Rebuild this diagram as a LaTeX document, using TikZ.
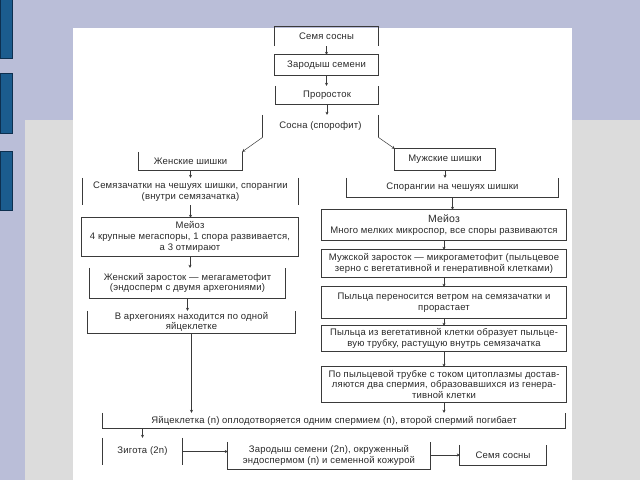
\documentclass[tikz,border=0pt]{standalone}
\usepackage{fontspec}
\setmainfont{Liberation Sans}[LetterSpace=2]
\usetikzlibrary{arrows.meta,calc}
\definecolor{bgblue}{HTML}{BABED8}
\definecolor{bggrey}{HTML}{DCDCDC}
\definecolor{barblue}{HTML}{1B5C8E}
\definecolor{barline}{HTML}{0D2F4F}
\definecolor{linec}{HTML}{3A3A3A}
\definecolor{textc}{HTML}{2A2A2A}
\newcommand{\fs}{\fontsize{9.5}{10.8}\selectfont}
\tikzset{
  box/.style={inner sep=0pt, align=center, font=\fs, text=textc},
  edge/.style={draw=linec, line width=0.8pt},
  arr/.style={draw=linec, line width=0.5pt, -{Stealth[length=3pt,width=3pt]}},
  bar/.style={fill=barblue, draw=barline, line width=0.6pt}
}
\begin{document}
\begin{tikzpicture}[x=1pt,y=-1pt]
\useasboundingbox (0,0) rectangle (640,480);
% background
\fill[bgblue] (0,0) rectangle (640,480);
\fill[bggrey] (25,120) rectangle (640,480);
\fill[white] (73,28) rectangle (572,480);
\draw[bar] (0,-1) rectangle (12,58);
\draw[bar] (0,73) rectangle (12,133);
\draw[bar] (0,151) rectangle (12,210);

% nodes
\node[box, minimum width=103pt, minimum height=19pt] (b1) at (326.5,36.5) {Семя сосны};
\node[box, minimum width=103pt, minimum height=20pt] (b2) at (326.5,65) {Зародыш семени};
\node[box, minimum width=102pt, minimum height=18pt] (b3) at (327,95) {Проросток};
\node[box, minimum width=115pt, minimum height=22pt] (b4) at (320.5,126) {Сосна (спорофит)};
\node[box, minimum width=103pt, minimum height=18pt] (b5) at (190.5,161) {Женские шишки};
\node[box, minimum width=100pt, minimum height=21pt] (b6) at (445,159.5) {Мужские шишки};
\node[box, minimum width=215pt, minimum height=27pt] (b7) at (190.5,191.5) {Семязачатки на чешуях шишки, спорангии\\(внутри семязачатка)};
\node[box, minimum width=211pt, minimum height=19pt] (b8) at (452.5,187.5) {Спорангии на чешуях шишки};
\node[box, minimum width=216pt, minimum height=38pt] (b9) at (190,237) {Мейоз\\4 крупные мегаспоры, 1 спора развивается,\\а 3 отмирают};
\node[box, minimum width=244pt, minimum height=30pt] (b10) at (444,225) {{\fontsize{10.5}{11}\selectfont Мейоз}\\Много мелких микроспор, все споры развиваются};
\node[box, minimum width=195pt, minimum height=30pt] (b11) at (187.5,283) {Женский заросток — мегагаметофит\\(эндосперм с двумя архегониями)};
\node[box, minimum width=207pt, minimum height=22pt] (b12) at (191.5,322) {В архегониях находится по одной\\яйцеклетке};
\node[box, minimum width=244pt, minimum height=27pt] (b13) at (444,263.5) {Мужской заросток — микрогаметофит (пыльцевое\\зерно с вегетативной и генеративной клетками)};
\node[box, minimum width=244pt, minimum height=31pt] (b14) at (444,302.5) {Пыльца переносится ветром на семязачатки и\\прорастает};
\node[box, minimum width=244pt, minimum height=25pt] (b15) at (444,338.5) {Пыльца из вегетативной клетки образует пыльце-\\вую трубку, растущую внутрь семязачатка};
\node[box, minimum width=244pt, minimum height=35pt] (b16) at (444,384.5) {По пыльцевой трубке с током цитоплазмы достав-\\ляются два спермия, образовавшихся из генера-\\тивной клетки};
\node[box, minimum width=462pt, minimum height=15pt] (b17) at (334,420.5) {Яйцеклетка (n) оплодотворяется одним спермием (n), второй спермий погибает};
\node[box, minimum width=79pt, minimum height=27pt] (b18) at (142.5,451.5) {Зигота (2n)};
\node[box, minimum width=202pt, minimum height=27pt] (b19) at (329,455.5) {Зародыш семени (2n), окруженный\\эндоспермом (n) и семенной кожурой};
\node[box, minimum width=86pt, minimum height=20pt] (b20) at (503,455) {Семя сосны};

% borders
\draw[edge] (b1.south west) -- (b1.north west) -- (b1.north east) -- (b1.south east);
\draw[edge, line width=1pt] (b2.south west) rectangle (b2.north east);
\draw[edge] (b3.north west) -- (b3.south west) -- (b3.south east) -- (b3.north east);
\draw[edge] (b4.north west) -- (b4.south west);
\draw[edge] (b4.north east) -- (b4.south east);
\draw[edge] (b5.north west) -- (b5.south west) -- (b5.south east) -- (b5.north east);
\draw[edge] (b6.south west) rectangle (b6.north east);
\draw[edge] (b7.north west) -- (b7.south west);
\draw[edge] (b7.north east) -- (b7.south east);
\draw[edge] (b8.north west) -- (b8.south west) -- (b8.south east) -- (b8.north east);
\draw[edge] (b9.south west) rectangle (b9.north east);
\draw[edge] (b10.south west) rectangle (b10.north east);
\draw[edge] (b11.north west) -- (b11.south west) -- (b11.south east) -- (b11.north east);
\draw[edge] (b12.north west) -- (b12.south west) -- (b12.south east) -- (b12.north east);
\draw[edge] (b13.south west) rectangle (b13.north east);
\draw[edge] (b14.south west) rectangle (b14.north east);
\draw[edge] (b15.south west) rectangle (b15.north east);
\draw[edge] (b16.south west) rectangle (b16.north east);
\draw[edge] (b17.north west) -- (b17.south west) -- (b17.south east) -- (b17.north east);
\draw[edge] (b18.north west) -- (b18.south west);
\draw[edge] (b18.north east) -- (b18.south east);
\draw[edge] (b19.north west) -- (b19.south west) -- (b19.south east) -- (b19.north east);
\draw[edge] (b20.north west) -- (b20.south west) -- (b20.south east) -- (b20.north east);

% connectors
\draw[arr] (b1.south) -- (b1.south |- b2.north);
\draw[arr] (b2.south) -- (b2.south |- b3.north);
\draw[arr] (b3.south) -- (b3.south |- b4.north);
\draw[arr] (b4.south west) -- (b5.north east);
\draw[arr] (b4.south east) -- (b6.north west);
\draw[arr] (b5.south) -- (b5.south |- b7.north);
\draw[arr] (b7.south) -- (b7.south |- b9.north);
\draw[arr] (b9.south) -- (b9.south |- b11.north);
\draw[arr] (b11.south) -- (b11.south |- b12.north);
\draw[arr] (b12.south) -- (b12.south |- b17.north);
\draw[arr] (b6.south) -- (b6.south |- b8.north);
\draw[arr] (b8.south) -- (b8.south |- b10.north);
\draw[arr] (b10.south) -- (b10.south |- b13.north);
\draw[arr] (b13.south) -- (b13.south |- b14.north);
\draw[arr] (b14.south) -- (b14.south |- b15.north);
\draw[arr] (b15.south) -- (b15.south |- b16.north);
\draw[arr] (b16.south) -- (b16.south |- b17.north);
\draw[arr] (b18.north |- b17.south) -- (b18.north);
\draw[arr] (b18.east) -- (b18.east -| b19.west);
\draw[arr] (b19.east |- b20.west) -- (b20.west);
\end{tikzpicture}
\end{document}
